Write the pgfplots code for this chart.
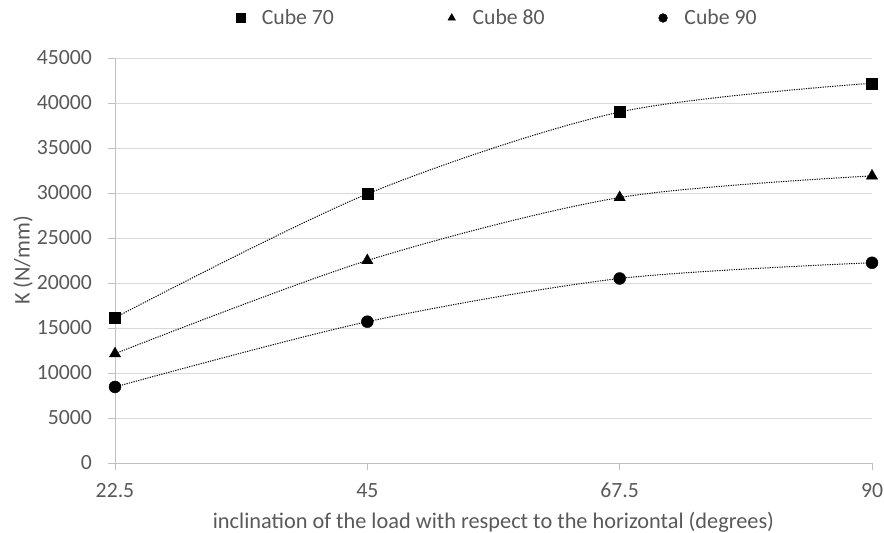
\documentclass[border=0pt]{standalone}
\usepackage{fontspec}
\setmainfont{Carlito}
\usepackage{pgfplots}
\pgfplotsset{compat=1.18}
\definecolor{txt}{HTML}{595959}
\definecolor{gridc}{HTML}{D9D9D9}
\definecolor{axl}{HTML}{BFBFBF}
\begin{document}
\begin{tikzpicture}
\begin{axis}[
  at={(0bp,0bp)}, anchor=south west,
  scale only axis, width=757bp, height=405bp,
  xmin=22.5, xmax=90, ymin=0, ymax=45000,
  xtick={22.5,45,67.5,90},
  xticklabels={22.5,45,67.5,90},
  ytick={0,5000,...,45000},
  scaled y ticks=false,
  /pgf/number format/assume math mode=true,
  /pgf/number format/fixed,
  /pgf/number format/1000 sep={},
  axis x line*=bottom, axis y line*=left,
  axis line style={axl, line width=0.8bp, -},
  ymajorgrids, grid style={gridc, line width=0.8bp},
  tick align=outside, major tick length=7bp,
  tick style={axl, line width=0.8bp},
  tick label style={font=\fontsize{21.8}{24}\selectfont, text=txt, inner sep=0bp},
  xticklabel style={anchor=north, yshift=-13bp},
  yticklabel style={anchor=east, xshift=-16bp},
  xlabel={inclination of the load with respect to the horizontal (degrees)},
  ylabel={K (N/mm)},
  label style={font=\fontsize{22.4}{24}\selectfont, text=txt},
  xlabel style={at={(axis description cs:0.5,-0.1457)}, anchor=center},
  ylabel style={at={(axis description cs:-0.1215,0.5)}, anchor=center},
  legend columns=3,
  legend style={draw=none, fill=none, at={(axis description cs:0.505,1.0988)}, anchor=center,
    font=\fontsize{21.8}{24}\selectfont, text=txt,
    /tikz/every odd column/.append style={column sep=15bp},
    /tikz/every even column/.append style={column sep=112bp}},
  legend cell align=left,
  legend image code/.code={\draw[#1, mark size=4.4bp] plot coordinates {(0bp,0bp)};},
]
% Cube 70
\addplot[black, line width=1bp, dash pattern=on 1.2bp off 1.2bp, smooth, tension=0.5, forget plot]
  coordinates {(22.5,16150) (45,29900) (67.5,39000) (90,42200)};
\addplot[only marks, mark=square*, mark size=5.5bp, black]
  coordinates {(22.5,16150) (45,29900) (67.5,39000) (90,42200)};
\addlegendentry{Cube 70}
% Cube 80
\addplot[black, line width=1bp, dash pattern=on 1.2bp off 1.2bp, smooth, tension=0.5, forget plot]
  coordinates {(22.5,12150) (45,22500) (67.5,29500) (90,31900)};
\addplot[only marks, mark=triangle*, mark size=6.5bp, black]
  coordinates {(22.5,12150) (45,22500) (67.5,29500) (90,31900)};
\addlegendentry{Cube 80}
% Cube 90
\addplot[black, line width=1bp, dash pattern=on 1.2bp off 1.2bp, smooth, tension=0.5, forget plot]
  coordinates {(22.5,8450) (45,15700) (67.5,20500) (90,22250)};
\addplot[only marks, mark=*, mark size=6bp, black]
  coordinates {(22.5,8450) (45,15700) (67.5,20500) (90,22250)};
\addlegendentry{Cube 90}
\end{axis}
\pgfresetboundingbox
\path (-115bp,-70bp) rectangle (769bp,463bp);
\end{tikzpicture}
\end{document}
